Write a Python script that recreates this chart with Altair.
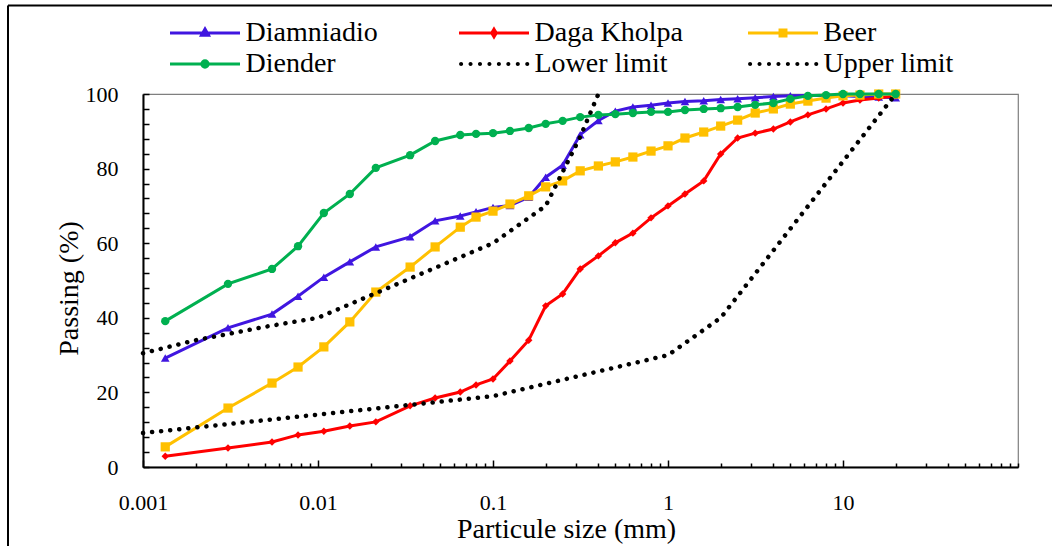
import altair as alt
import pandas as pd

# ---------------- data ----------------
sizes = [0.00134, 0.00306, 0.00546, 0.00769, 0.0108, 0.0152, 0.0214, 0.0336, 0.0467,
         0.065, 0.08, 0.1, 0.125, 0.16, 0.2, 0.25, 0.315, 0.4, 0.5, 0.63, 0.8, 1, 1.25, 1.6,
         2, 2.5, 3.15, 4, 5, 6.3, 8, 10, 12.5, 16, 20]

diamniadio = [29.2, 37.3, 41.0, 45.8, 50.9, 55.0, 59.0, 61.7, 66.0,
              67.3, 68.4, 69.6, 70.1, 72.3, 77.7, 80.9, 89.1, 92.9, 95.4, 96.5, 97.0, 97.6, 98.0, 98.2,
              98.5, 98.7, 99.0, 99.3, 99.5, 99.6, 99.6, 99.5, 99.3, 99.2, 99.0]
daga_kholpa = [2.9, 5.1, 6.7, 8.6, 9.6, 11.0, 12.1, 16.4, 18.5,
               20.1, 22.0, 23.6, 28.4, 34.0, 43.2, 46.4, 53.1, 56.6, 60.1, 62.7, 66.8, 70.0, 73.2, 76.7,
               83.9, 88.2, 89.5, 90.6, 92.5, 94.4, 96.0, 97.6, 98.4, 98.9, 99.5]
beer = [5.4, 15.8, 22.5, 26.8, 32.2, 38.9, 46.9, 53.6, 59.0,
        64.3, 67.0, 68.6, 70.5, 72.7, 75.1, 76.7, 79.4, 80.7, 81.8, 83.1, 84.7, 86.1, 88.2, 89.8,
        91.4, 93.0, 94.9, 96.0, 97.3, 98.1, 98.9, 99.5, 99.7, 100, 100]
diender = [39.1, 49.1, 53.1, 59.2, 68.1, 73.2, 80.2, 83.6, 87.4,
           89.0, 89.3, 89.5, 90.1, 90.9, 92.0, 92.8, 93.8, 94.4, 94.6, 94.9, 95.2, 95.2, 95.7, 96.0,
           96.2, 96.5, 97.1, 97.6, 98.7, 99.5, 99.7, 100, 100, 100, 100]

lower_x = [0.001, 0.1, 1, 2, 20]
lower_y = [9.1, 19.0, 30.0, 40.0, 100.0]
upper_x = [0.001, 0.002, 0.005, 0.01, 0.1, 0.2, 0.315, 0.4]
upper_y = [30.5, 34.0, 37.6, 40.0, 60.0, 70.0, 88.5, 100.0]

series_names = ["Diamniadio", "Daga Kholpa", "Beer", "Diender"]
limit_names = ["Lower limit", "Upper limit"]
series_values = [diamniadio, daga_kholpa, beer, diender]
colors = ["#4016E0", "#FF0000", "#FFC000", "#00B050"]
marker_shapes = ["triangle-up", "diamond", "square", "circle"]
marker_sizes = [75, 55, 85, 70]

x_major = [0.001, 0.01, 0.1, 1, 10]
x_minor = [m * 10.0 ** e for e in range(-3, 2) for m in range(2, 10)] + [100]
y_ticks = list(range(0, 101, 4))

FONT = "Liberation Serif, Tinos, Times New Roman, Times, Nimbus Roman, DejaVu Serif, serif"

# legend symbol paths (line + marker), in the [-1, 1] symbol box
marker_paths = {
    "Diamniadio": "M-1,0H1M0,-0.115L0.1,0.065L-0.1,0.065Z",
    "Daga Kholpa": "M-1,0H1M0,-0.11L0.065,0L0,0.11L-0.065,0Z",
    "Beer": "M-1,0H1M-0.085,-0.085H0.085V0.085H-0.085Z",
    "Diender": "M-1,0H1M-0.09,0A0.09,0.09 0 1,0 0.09,0A0.09,0.09 0 1,0 -0.09,0Z",
}
dot_path = "".join(
    f"M{c - 0.058:.3f},0A0.058,0.058 0 1,0 {c + 0.058:.3f},0A0.058,0.058 0 1,0 {c - 0.058:.3f},0Z"
    for c in [-0.94 + 0.27 * k for k in range(8)]
)
marker_paths["Lower limit"] = dot_path
marker_paths["Upper limit"] = dot_path
fill_of = dict(zip(series_names, colors)) | {"Lower limit": "black", "Upper limit": "black"}
stroke_of = dict(zip(series_names, colors)) | {"Lower limit": "transparent", "Upper limit": "transparent"}

# legend fills its 3 columns top-down, so list entries column by column
legend_order = ["Diamniadio", "Diender", "Daga Kholpa", "Lower limit", "Beer", "Upper limit"]

# ---------------- scales ----------------
xscale = alt.Scale(type="log", domain=[0.001, 100], nice=False)
yscale = alt.Scale(domain=[0, 100], nice=False, zero=False)

major_x_axis = alt.Axis(
    orient="bottom", values=x_major, labelExpr="format(datum.value, '~g')",
    tickSize=alt.ExprRef(expr="-7"), labelPadding=32, labelFlush=False, labelOverlap=False,
    labelFont=FONT, labelFontSize=22, labelColor="black",
    title="Particule size (mm)", titleFont=FONT, titleFontSize=28, titleFontWeight="normal",
    titleColor="black", titleX=423, titleY=62, titleBaseline="middle",
    domainColor="black", domainWidth=2, tickColor="black", tickWidth=1.5, grid=False,
)
minor_x_axis = alt.Axis(
    orient="bottom", values=x_minor, labels=False, domain=False, title=None,
    tickSize=alt.ExprRef(expr="-4"), tickColor="black", tickWidth=1.5, grid=False,
)
y_axis = alt.Axis(
    orient="left", values=y_ticks,
    labelExpr="datum.value % 20 == 0 ? format(datum.value, 'd') : ''",
    tickSize=alt.ExprRef(expr="-6"), labelPadding=31, labelFlush=False, labelOverlap=False,
    labelFont=FONT, labelFontSize=22, labelColor="black",
    title="Passing (%)", titleFont=FONT, titleFontSize=28, titleFontWeight="normal",
    titleColor="black", titleX=-74, titleY=194, titleBaseline="middle",
    domainColor="black", domainWidth=2, tickColor="black", tickWidth=1.5, grid=False,
)

layers = []

# outer frame (top and left edges of the chart area)
layers.append(alt.Chart(pd.DataFrame({"a": [0]})).mark_rule(color="black", strokeWidth=2).encode(
    x=alt.value(-135), x2=alt.value(909), y=alt.value(-88.5)))
layers.append(alt.Chart(pd.DataFrame({"a": [0]})).mark_rule(color="black", strokeWidth=2).encode(
    x=alt.value(-135), y=alt.value(-88.5), y2=alt.value(452)))

# legend carrier (clipped, invisible in the plot)
legend = alt.Legend(
    title=None, orient="none", legendX=25.5, legendY=-76.5, columns=3, gridAlign="all",
    columnPadding=63, rowPadding=0, clipHeight=31, symbolSize=4900, symbolStrokeWidth=3,
    labelFont=FONT, labelFontSize=28, labelColor="black", labelOffset=4, labelLimit=400, padding=0,
)
legend_df = pd.DataFrame({"series": legend_order, "size": [1e-5] * 6, "passing": [50] * 6})
layers.append(alt.Chart(legend_df).mark_point(filled=True, size=4900, strokeWidth=3, opacity=1, clip=True).encode(
    x=alt.X("size:Q", scale=xscale, axis=None),
    y=alt.Y("passing:Q", scale=yscale, axis=None),
    shape=alt.Shape("series:N", scale=alt.Scale(domain=legend_order, range=[marker_paths[n] for n in legend_order]), legend=legend),
    fill=alt.Fill("series:N", scale=alt.Scale(domain=legend_order, range=[fill_of[n] for n in legend_order]), legend=legend),
    stroke=alt.Stroke("series:N", scale=alt.Scale(domain=legend_order, range=[stroke_of[n] for n in legend_order]), legend=legend),
))

# series
for i, (name, vals) in enumerate(zip(series_names, series_values)):
    df = pd.DataFrame({"size": sizes, "passing": vals})
    xa = major_x_axis if i == 0 else None
    ya = y_axis if i == 0 else None
    layers.append(alt.Chart(df).mark_line(color=colors[i], strokeWidth=3).encode(
        x=alt.X("size:Q", scale=xscale, axis=xa),
        y=alt.Y("passing:Q", scale=yscale, axis=ya),
    ))
    xm = minor_x_axis if i == 0 else None
    layers.append(alt.Chart(df).mark_point(
        shape=marker_shapes[i], filled=True, size=marker_sizes[i], color=colors[i], opacity=1,
        strokeWidth=1).encode(
        x=alt.X("size:Q", scale=xscale, axis=xm),
        y=alt.Y("passing:Q", scale=yscale, axis=None),
    ))

# limits
for lx, ly in [(lower_x, lower_y), (upper_x, upper_y)]:
    df = pd.DataFrame({"size": lx, "passing": ly})
    layers.append(alt.Chart(df).mark_line(
        color="black", strokeWidth=4.5, strokeDash=[0.1, 9], strokeCap="round").encode(
        x=alt.X("size:Q", scale=xscale, axis=None),
        y=alt.Y("passing:Q", scale=yscale, axis=None),
    ))

chart = alt.layer(*layers).resolve_axis(x="independent", y="independent").properties(
    width=875, height=373,
    autosize=alt.AutoSizeParams(type="none"),
    padding={"left": 143, "top": 94, "right": 34, "bottom": 79},
    background="white",
).configure_view(stroke="#7f7f7f", strokeWidth=1.2)

chart.save("out.html", embed_options={"renderer": "svg", "actions": False})
